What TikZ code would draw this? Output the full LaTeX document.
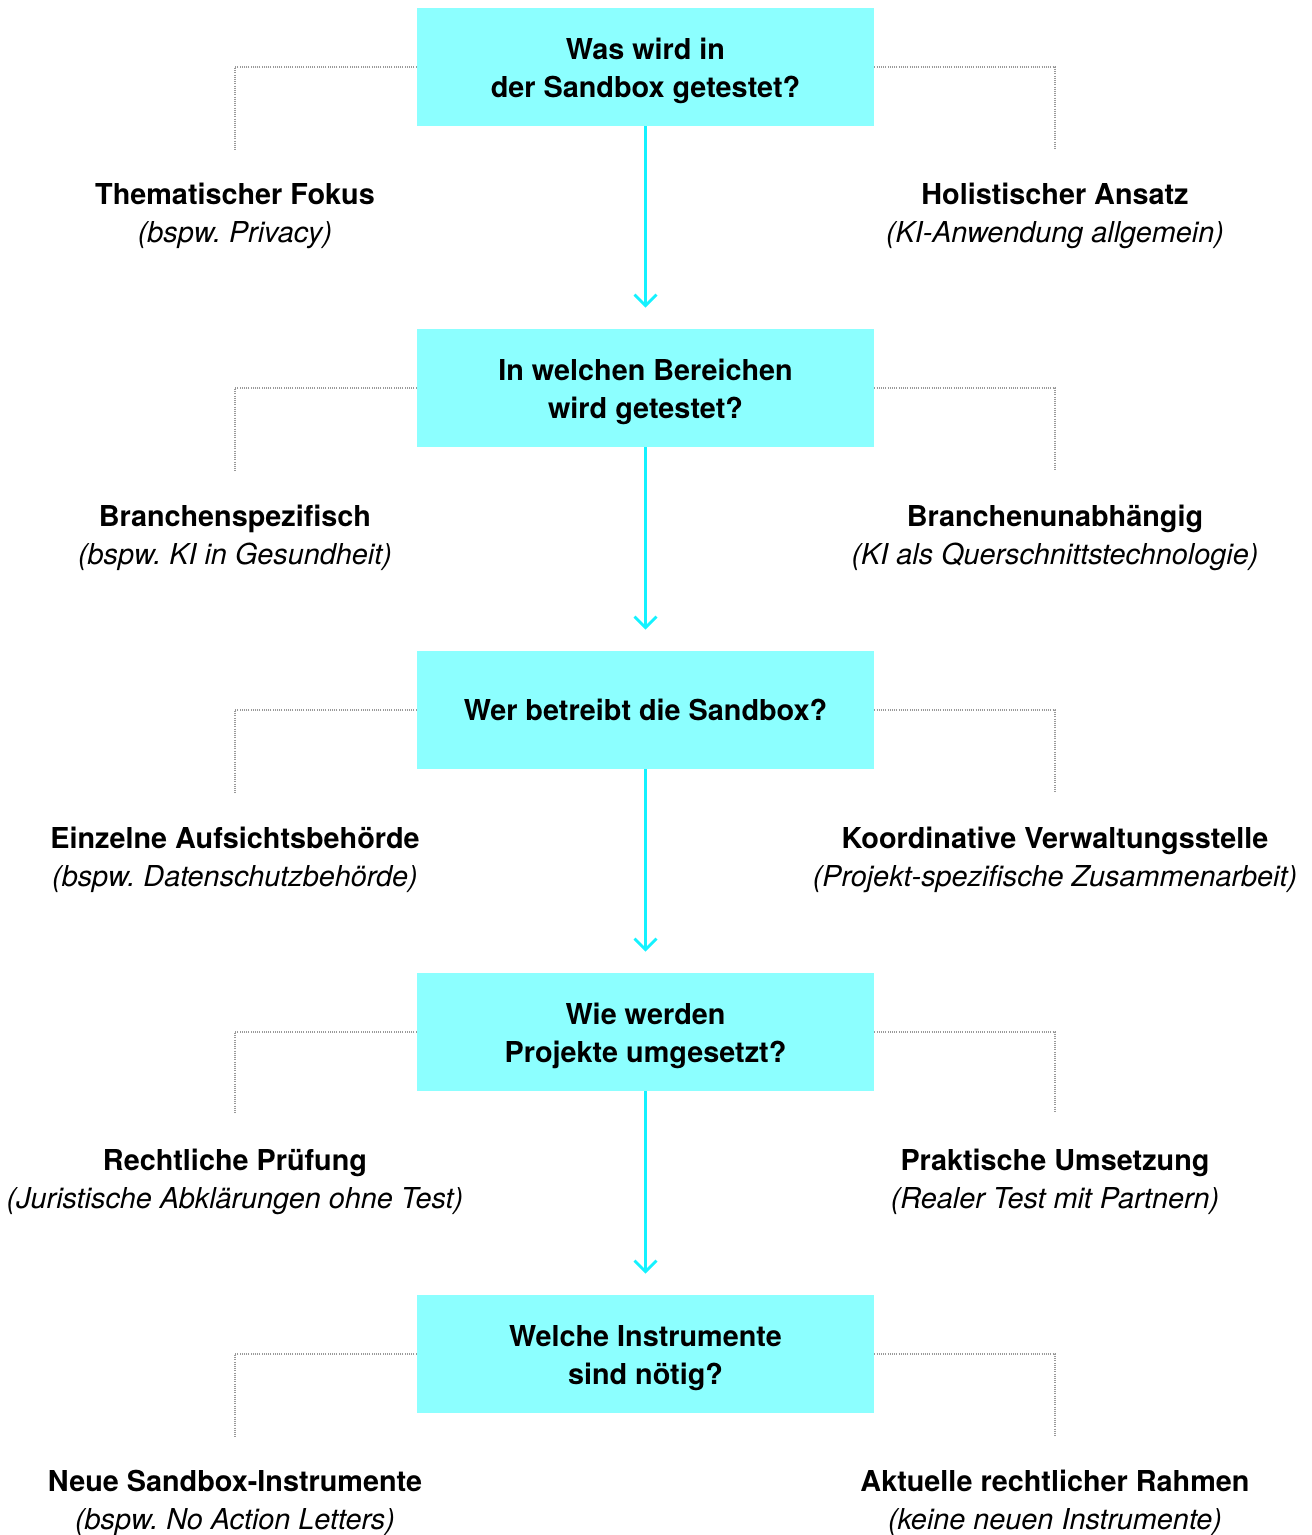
\documentclass[tikz,border=0pt]{standalone}
\usepackage{fontspec}
\setmainfont{TeX Gyre Heros}
\usetikzlibrary{arrows.meta}
\frenchspacing
\definecolor{boxcyan}{HTML}{8CFFFF}
\definecolor{arrowcyan}{HTML}{14F2FF}
\newcommand{\topstrut}{\rule{0pt}{14.5pt}}
\tikzset{
	question/.style={fill=boxcyan, minimum width=228.5pt, minimum height=59pt, align=center, font=\fontsize{14.4}{19}\selectfont\bfseries, inner sep=0pt},
	option/.style={align=center, inner sep=0pt, font=\fontsize{14.4}{19}\selectfont},
	flow/.style={draw=arrowcyan, line width=1.4pt, -{Straight Barb[length=5.5pt, width=11pt, line width=1.4pt]}, shorten >=10.5pt},
	guide/.style={draw=gray!80, line width=0.55pt, dash pattern=on 0.5pt off 0.6pt}
}
\begin{document}
\begin{tikzpicture}[x=0.5pt, y=-0.5pt]
		\useasboundingbox (0, 0) rectangle (1311, 1535);

		\node[question] (q1) at (645.5, 67) {\topstrut Was wird in\\der Sandbox getestet?};
		\node[question] (q2) at (645.5, 388) {\topstrut In welchen Bereichen\\wird getestet?};
		\node[question] (q3) at (645.5, 710) {Wer betreibt die Sandbox?};
		\node[question] (q4) at (645.5, 1032) {\topstrut Wie werden\\Projekte umgesetzt?};
		\node[question] (q5) at (645.5, 1354) {\topstrut Welche Instrumente\\sind nötig?};

		\draw[flow] (q1) -- (q2);
		\draw[flow] (q2) -- (q3);
		\draw[flow] (q3) -- (q4);
		\draw[flow] (q4) -- (q5);

		\coordinate (lc1) at (235, 150);
		\coordinate (rc1) at (1055, 150);
		\coordinate (lc2) at (235, 471);
		\coordinate (rc2) at (1055, 471);
		\coordinate (lc3) at (235, 793);
		\coordinate (rc3) at (1055, 793);
		\coordinate (lc4) at (235, 1113);
		\coordinate (rc4) at (1055, 1113);
		\coordinate (lc5) at (235, 1437);
		\coordinate (rc5) at (1055, 1437);

		\draw[guide] (q1.west) -| (lc1);
		\draw[guide] (q1.east) -| (rc1);
		\draw[guide] (q2.west) -| (lc2);
		\draw[guide] (q2.east) -| (rc2);
		\draw[guide] (q3.west) -| (lc3);
		\draw[guide] (q3.east) -| (rc3);
		\draw[guide] (q4.west) -| (lc4);
		\draw[guide] (q4.east) -| (rc4);
		\draw[guide] (q5.west) -| (lc5);
		\draw[guide] (q5.east) -| (rc5);

		\node[option] (l1) at (235, 216) {\textbf{Thematischer Fokus}\\\textit{(bspw. Privacy)}};
		\node[option] (r1) at (1055, 216) {\textbf{Holistischer Ansatz}\\\textit{(KI-Anwendung allgemein)}};
		\node[option] (l2) at (235, 538) {\textbf{Branchenspezifisch}\\\textit{(bspw. KI in Gesundheit)}};
		\node[option] (r2) at (1055, 538) {\textbf{Branchenunabhängig}\\\textit{(KI als Querschnittstechnologie)}};
		\node[option] (l3) at (235, 860) {\textbf{Einzelne Aufsichtsbehörde}\\\textit{(bspw. Datenschutzbehörde)}};
		\node[option] (r3) at (1055, 860) {\textbf{Koordinative Verwaltungsstelle}\\\textit{(Projekt-spezifische Zusammenarbeit)}};
		\node[option] (l4) at (235, 1182) {\textbf{Rechtliche Prüfung}\\\textit{(Juristische Abklärungen ohne Test)}};
		\node[option] (r4) at (1055, 1182) {\textbf{Praktische Umsetzung}\\\textit{(Realer Test mit Partnern)}};
		\node[option] (l5) at (235, 1503) {\textbf{Neue Sandbox-Instrumente}\\\textit{(bspw. No Action Letters)}};
		\node[option] (r5) at (1055, 1503) {\textbf{Aktuelle rechtlicher Rahmen}\\\textit{(keine neuen Instrumente)}};
	\end{tikzpicture}
\end{document}
